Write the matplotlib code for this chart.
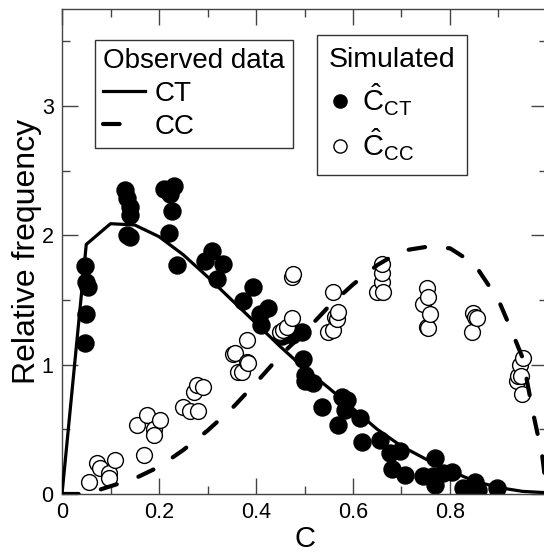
import matplotlib
matplotlib.use("Agg")
import matplotlib.pyplot as plt
from matplotlib.lines import Line2D
from matplotlib.ticker import MultipleLocator

plt.rcParams['font.family'] = ['Liberation Sans', 'DejaVu Sans']
plt.rcParams['mathtext.fontset'] = 'custom'
plt.rcParams['mathtext.rm'] = 'Liberation Sans'
plt.rcParams['mathtext.it'] = 'Liberation Sans:italic'

# observed curves
ct_x = [0, 0.05, 0.1, 0.15, 0.2, 0.25, 0.3, 0.35, 0.4, 0.45, 0.5, 0.55, 0.6,
        0.65, 0.7, 0.75, 0.8, 0.85, 0.9, 0.95, 1.0]
ct_y = [0, 1.93, 2.09, 2.08, 1.99, 1.85, 1.68, 1.50, 1.32, 1.14, 0.97, 0.82,
        0.66, 0.50, 0.37, 0.27, 0.18, 0.10, 0.05, 0.02, 0.01]
cc_x = [0, 0.05, 0.1, 0.15, 0.2, 0.25, 0.3, 0.35, 0.4, 0.45, 0.5, 0.55, 0.6,
        0.65, 0.7, 0.75, 0.8, 0.85, 0.875, 0.9, 0.925, 0.95, 0.97, 0.99, 1.0]
cc_y = [0, 0.0, 0.06, 0.12, 0.21, 0.34, 0.49, 0.66, 0.86, 1.07, 1.25, 1.45,
        1.62, 1.77, 1.88, 1.91, 1.90, 1.78, 1.64, 1.50, 1.28, 1.05, 0.65, 0.3, 0.0]

# simulated C_CT (filled)
sim_ct_x = [0.047, 0.05, 0.054, 0.05, 0.047,
            0.13, 0.135, 0.14, 0.14, 0.135, 0.14,
            0.21, 0.23, 0.223, 0.227, 0.22, 0.237,
            0.295, 0.31, 0.332, 0.32, 0.394, 0.373, 0.425, 0.408, 0.41,
            0.454, 0.474, 0.495, 0.497, 0.50, 0.50, 0.517,
            0.536, 0.577, 0.587, 0.583, 0.569, 0.614, 0.619, 0.656,
            0.676, 0.697, 0.68, 0.707, 0.744, 0.769, 0.765, 0.769, 0.786,
            0.804, 0.827, 0.852, 0.858, 0.897]
sim_ct_y = [1.76, 1.64, 1.60, 1.39, 1.17,
            2.35, 2.29, 2.22, 2.16, 2.00, 1.99,
            2.36, 2.38, 2.32, 2.19, 2.02, 1.77,
            1.80, 1.88, 1.78, 1.66, 1.60, 1.49, 1.44, 1.39, 1.31,
            1.22, 1.23, 1.25, 1.04, 0.92, 0.87, 0.86,
            0.67, 0.75, 0.73, 0.65, 0.53, 0.59, 0.40, 0.42,
            0.32, 0.33, 0.19, 0.15, 0.14, 0.28, 0.14, 0.07, 0.16,
            0.17, 0.05, 0.09, 0.03, 0.05]

# simulated C_CC (open)
sim_cc_x = [0.056, 0.072, 0.078, 0.097, 0.097, 0.11,
            0.155, 0.169, 0.175, 0.19, 0.19, 0.202,
            0.25, 0.264, 0.272, 0.278, 0.29, 0.28,
            0.353, 0.357, 0.363, 0.371, 0.381, 0.384, 0.381,
            0.45, 0.456, 0.464, 0.474, 0.474, 0.476,
            0.549, 0.559, 0.563, 0.567, 0.569, 0.559,
            0.649, 0.66, 0.66, 0.66, 0.662,
            0.745, 0.752, 0.752, 0.755, 0.755, 0.759,
            0.845, 0.848, 0.852, 0.855,
            0.938, 0.94, 0.944, 0.946, 0.948, 0.951]
sim_cc_y = [0.09, 0.24, 0.20, 0.16, 0.12, 0.26,
            0.53, 0.30, 0.61, 0.50, 0.46, 0.57,
            0.67, 0.64, 0.79, 0.84, 0.83, 0.64,
            1.08, 1.09, 0.94, 0.94, 1.02, 1.01, 1.19,
            1.25, 1.27, 1.29, 1.36, 1.68, 1.70,
            1.25, 1.27, 1.37, 1.35, 1.41, 1.56,
            1.56, 1.64, 1.71, 1.78, 1.56,
            1.47, 1.59, 1.29, 1.52, 1.28, 1.39,
            1.25, 1.40, 1.37, 1.36,
            0.87, 0.91, 1.00, 0.91, 0.77, 1.05]

fig = plt.figure(figsize=(5.44, 5.53), dpi=100)
ax = fig.add_axes([0.114, 0.1067, 0.8915, 0.877])

ax.scatter(sim_ct_x, sim_ct_y, s=150, color='black', zorder=2)
ax.scatter(sim_cc_x, sim_cc_y, s=130, facecolors='white', edgecolors='black',
           linewidths=1.0, zorder=2)
ax.plot(ct_x, ct_y, color='black', lw=2.3, zorder=3)
ax.plot(cc_x, cc_y, color='black', lw=3, dashes=(4, 5.5),
        dash_capstyle='round', zorder=3)

ax.set_xlim(0, 1.0)
ax.set_ylim(0, 3.75)
ax.xaxis.set_minor_locator(MultipleLocator(0.1))
ax.yaxis.set_major_locator(MultipleLocator(1))
ax.yaxis.set_minor_locator(MultipleLocator(0.5))
ax.set_xticks([0, 0.2, 0.4, 0.6, 0.8])
ax.set_xticklabels(['0', '0.2', '0.4', '0.6', '0.8'])
ax.tick_params(which='both', direction='in', top=True, right=True,
               color='#444444', width=1, labelsize=15.5)
ax.tick_params(which='major', length=11.5, pad=6)
ax.tick_params(which='minor', length=5.5)
for sp in ax.spines.values():
    sp.set_color('#444444')
    sp.set_linewidth(1)

ax.set_xlabel('C', fontsize=21, labelpad=1)
ax.set_ylabel('Relative frequency', fontsize=23, labelpad=0)

h1 = [Line2D([], [], color='black', lw=2.3),
      Line2D([], [], color='black', lw=3, dashes=(4, 12), dash_capstyle='round')]
leg1 = ax.legend(h1, ['CT', 'CC'], title='Observed data', loc='upper left',
                 bbox_to_anchor=(0.068, 0.936), fontsize=20, title_fontsize=20,
                 frameon=True, fancybox=False, edgecolor='#333333',
                 framealpha=1, handlelength=1.5, handletextpad=0.35,
                 borderpad=0.3, labelspacing=0.24, borderaxespad=0)
leg1.get_frame().set_linewidth(1)
leg1._legend_box.align = 'left'
ax.add_artist(leg1)

h2 = [Line2D([], [], ls='none', marker='o', markersize=9.5, color='black'),
      Line2D([], [], ls='none', marker='o', markersize=9.5, markerfacecolor='white',
             markeredgecolor='black', markeredgewidth=1.0)]
leg2 = ax.legend(h2, [r'$\hat{\mathrm{C}}_{\mathrm{CT}}$', r'$\hat{\mathrm{C}}_{\mathrm{CC}}$'],
                 title='Simulated', loc='upper left', bbox_to_anchor=(0.526, 0.946),
                 fontsize=21, title_fontsize=20.5, frameon=True, fancybox=False,
                 edgecolor='#333333', framealpha=1, handlelength=0.8,
                 handletextpad=0.35, borderpad=0.4, labelspacing=0.3,
                 borderaxespad=0)
leg2.get_frame().set_linewidth(1)
leg2._legend_box.align = 'left'

fig.savefig('out.png', dpi=100)
